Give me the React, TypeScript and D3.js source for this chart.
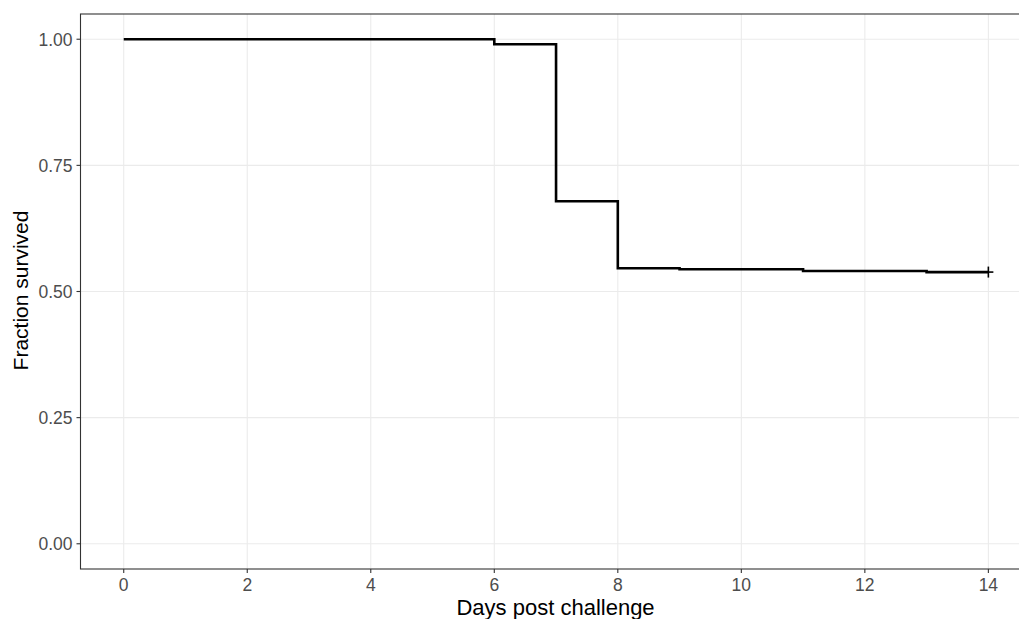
import React from 'react';
import * as d3 from 'd3';

// Kaplan-Meier survival steps
const times = [0, 6, 7, 8, 9, 11, 13, 14];
const survival = [1.0, 0.99, 0.679, 0.546, 0.544, 0.5405, 0.5385, 0.5385];
const censorTimes = [14];
const censorValues = [0.5385];

const xTicks = [0, 2, 4, 6, 8, 10, 12, 14];
const yTicks = [0, 0.25, 0.5, 0.75, 1.0];
const yTickLabels = ['0.00', '0.25', '0.50', '0.75', '1.00'];

const W = 1019;
const H = 619;
const margin = { top: 14, right: -12.6, bottom: 50, left: 80.5 };

const App = () => {
  const innerW = W - margin.left - margin.right;
  const innerH = H - margin.top - margin.bottom;

  const x = d3.scaleLinear().domain([-0.7, 14.7]).range([0, innerW]);
  const y = d3.scaleLinear().domain([-0.05, 1.05]).range([innerH, 0]);

  const pts: [number, number][] = times.map((t, i) => [t, survival[i]]);
  const line = d3.line<[number, number]>()
    .x(d => x(d[0]))
    .y(d => y(d[1]))
    .curve(d3.curveStepAfter);

  const font = '"Liberation Sans", Arial, Helvetica, sans-serif';

  return (
    <svg width={W} height={H} style={{ position: 'absolute', left: 0, top: 0, background: '#fff' }}>
      <g transform={`translate(${margin.left},${margin.top})`}>
        <rect x={0} y={0} width={innerW} height={innerH} fill="#fff" />
        {/* grid */}
        {xTicks.map(t => (
          <line key={'gx' + t} x1={x(t)} x2={x(t)} y1={0} y2={innerH} stroke="#EBEBEB" strokeWidth={1.1} />
        ))}
        {yTicks.map(t => (
          <line key={'gy' + t} x1={0} x2={innerW} y1={y(t)} y2={y(t)} stroke="#EBEBEB" strokeWidth={1.1} />
        ))}
        {/* survival curve */}
        <path d={line(pts) || ''} fill="none" stroke="#000" strokeWidth={2.6} />
        {censorTimes.map((t, i) => (
          <g key={'c' + i} transform={`translate(${x(t)},${y(censorValues[i])})`}>
            <line x1={-5} x2={5} y1={0} y2={0} stroke="#000" strokeWidth={1.6} />
            <line x1={0} x2={0} y1={-5.5} y2={5.5} stroke="#000" strokeWidth={1.6} />
          </g>
        ))}
        {/* panel border */}
        <rect x={0} y={0} width={innerW} height={innerH} fill="none" stroke="#333333" strokeWidth={1.1} />
        {/* y axis ticks */}
        {yTicks.map((t, i) => (
          <g key={'yt' + t} transform={`translate(0,${y(t)})`}>
            <line x1={-4} x2={0} stroke="#333333" strokeWidth={1.1} />
            <text x={-8} dy="0.36em" textAnchor="end" fontSize={17.5} fill="#4D4D4D" fontFamily={font}>
              {yTickLabels[i]}
            </text>
          </g>
        ))}
        {/* x axis ticks */}
        {xTicks.map(t => (
          <g key={'xt' + t} transform={`translate(${x(t)},${innerH})`}>
            <line y1={0} y2={4} stroke="#333333" strokeWidth={1.1} />
            <text y={22} textAnchor="middle" fontSize={17.5} fill="#4D4D4D" fontFamily={font}>
              {t}
            </text>
          </g>
        ))}
        {/* axis titles */}
        <text x={innerW / 2 - 0.5} y={innerH + 46} textAnchor="middle" fontSize={22} fill="#000" fontFamily={font}>
          Days post challenge
        </text>
        <text
          transform={`translate(${-margin.left + 28},${innerH / 2 - 1}) rotate(-90)`}
          textAnchor="middle"
          fontSize={21}
          fill="#000"
          fontFamily={font}
        >
          Fraction survived
        </text>
      </g>
    </svg>
  );
};

export default App;
